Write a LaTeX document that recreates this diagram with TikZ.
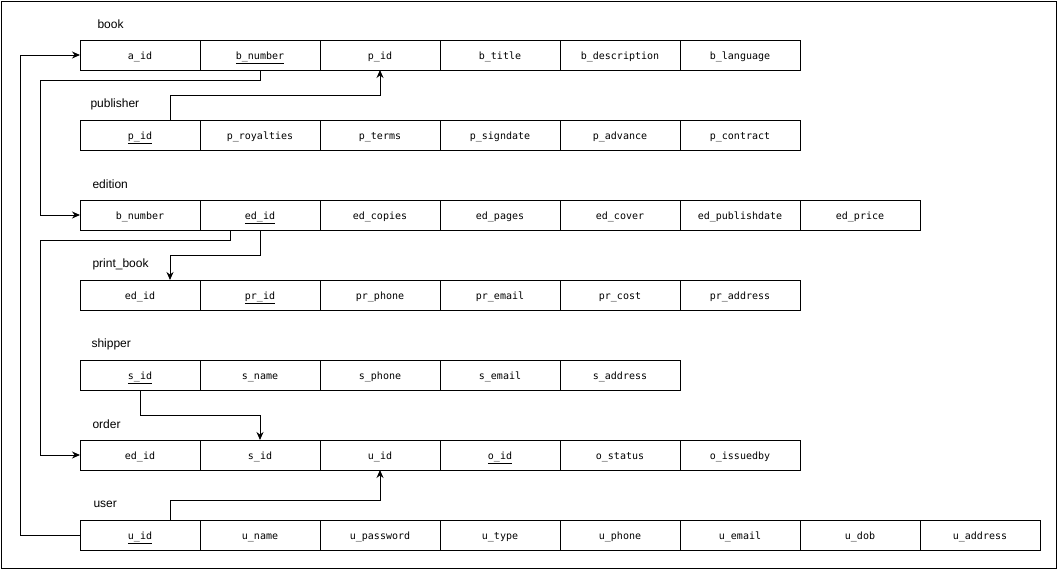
\documentclass[tikz,border=0pt]{standalone}
\usepackage{fontspec}
\setmainfont{Liberation Sans}
\setmonofont{DejaVu Sans Mono}
\usepackage{tikz}
\usetikzlibrary{arrows.meta,positioning}

\begin{document}
\begin{tikzpicture}[
    x=1pt, y=-1pt,
    node distance=0pt,
    line width=1pt,
    cell/.style={rectangle, draw, minimum width=120pt, minimum height=30pt, outer sep=0pt, inner sep=0pt, text height=9.5pt, text depth=1pt, font=\ttfamily\fontsize{10}{12}\selectfont},
    tname/.style={anchor=west, inner sep=0pt, font=\fontsize{12}{14}\selectfont},
    arrow/.style={-{Stealth[length=8pt,width=7pt]}, line width=1pt}
]
\useasboundingbox (0,0) rectangle (1061,571);
\draw (1,1) rectangle (1056,568);

% book
\node[tname] (lbook) at (97,24) {book};
\node[cell] (baid) at (140,55) {a\_id};
\node[cell, right=of baid] (bnum) {\underline{b\_number}};
\node[cell, right=of bnum] (bpid) {p\_id};
\node[cell, right=of bpid] (btitle) {b\_title};
\node[cell, right=of btitle] (bdesc) {b\_description};
\node[cell, right=of bdesc] (blang) {b\_language};

% publisher
\node[tname] (lpub) at (90,104) {publisher};
\node[cell] (ppid) at (140,135) {\underline{p\_id}};
\node[cell, right=of ppid] (proy) {p\_royalties};
\node[cell, right=of proy] (pterms) {p\_terms};
\node[cell, right=of pterms] (psign) {p\_signdate};
\node[cell, right=of psign] (padv) {p\_advance};
\node[cell, right=of padv] (pcontr) {p\_contract};

% edition
\node[tname] (led) at (92,184) {edition};
\node[cell] (ebnum) at (140,215) {b\_number};
\node[cell, right=of ebnum] (edid) {\underline{ed\_id}};
\node[cell, right=of edid] (ecopies) {ed\_copies};
\node[cell, right=of ecopies] (epages) {ed\_pages};
\node[cell, right=of epages] (ecover) {ed\_cover};
\node[cell, right=of ecover] (epub) {ed\_publishdate};
\node[cell, right=of epub] (eprice) {ed\_price};

% print_book
\node[tname] (lpb) at (92,264) {print\_book};
\node[cell] (pbedid) at (140,295) {ed\_id};
\node[cell, right=of pbedid] (prid) {\underline{pr\_id}};
\node[cell, right=of prid] (prphone) {pr\_phone};
\node[cell, right=of prphone] (premail) {pr\_email};
\node[cell, right=of premail] (prcost) {pr\_cost};
\node[cell, right=of prcost] (praddr) {pr\_address};

% shipper
\node[tname] (lship) at (91,344) {shipper};
\node[cell] (sid) at (140,375) {\underline{s\_id}};
\node[cell, right=of sid] (sname) {s\_name};
\node[cell, right=of sname] (sphone) {s\_phone};
\node[cell, right=of sphone] (semail) {s\_email};
\node[cell, right=of semail] (saddr) {s\_address};

% order
\node[tname] (lord) at (92,424) {order};
\node[cell] (oedid) at (140,455) {ed\_id};
\node[cell, right=of oedid] (osid) {s\_id};
\node[cell, right=of osid] (ouid) {u\_id};
\node[cell, right=of ouid] (oid) {\underline{o\_id}};
\node[cell, right=of oid] (ostatus) {o\_status};
\node[cell, right=of ostatus] (oissued) {o\_issuedby};

% user
\node[tname] (luser) at (93,504) {user};
\node[cell] (uid) at (140,535) {\underline{u\_id}};
\node[cell, right=of uid] (uname) {u\_name};
\node[cell, right=of uname] (upass) {u\_password};
\node[cell, right=of upass] (utype) {u\_type};
\node[cell, right=of utype] (uphone) {u\_phone};
\node[cell, right=of uphone] (uemail) {u\_email};
\node[cell, right=of uemail] (udob) {u\_dob};
\node[cell, right=of udob] (uaddr) {u\_address};

% links
\draw[arrow] (uid.west) -- ++(-60,0) |- (baid.west);
\draw[arrow] (bnum.south) -- ++(0,10) -- ++(-220,0) |- (ebnum.west);
\draw[arrow] ([xshift=30pt]ppid.north) -- ++(0,-25) -| (bpid.south);
\draw[arrow] ([xshift=-30pt]edid.south) -- ++(0,10) -- ++(-190,0) |- (oedid.west);
\draw[arrow] (edid.south) -- ++(0,25) -| ([xshift=30pt]pbedid.north);
\draw[arrow] (sid.south) -- ++(0,25) -| (osid.north);
\draw[arrow] ([xshift=30pt]uid.north) -- ++(0,-20) -| (ouid.south);
\end{tikzpicture}
\end{document}
